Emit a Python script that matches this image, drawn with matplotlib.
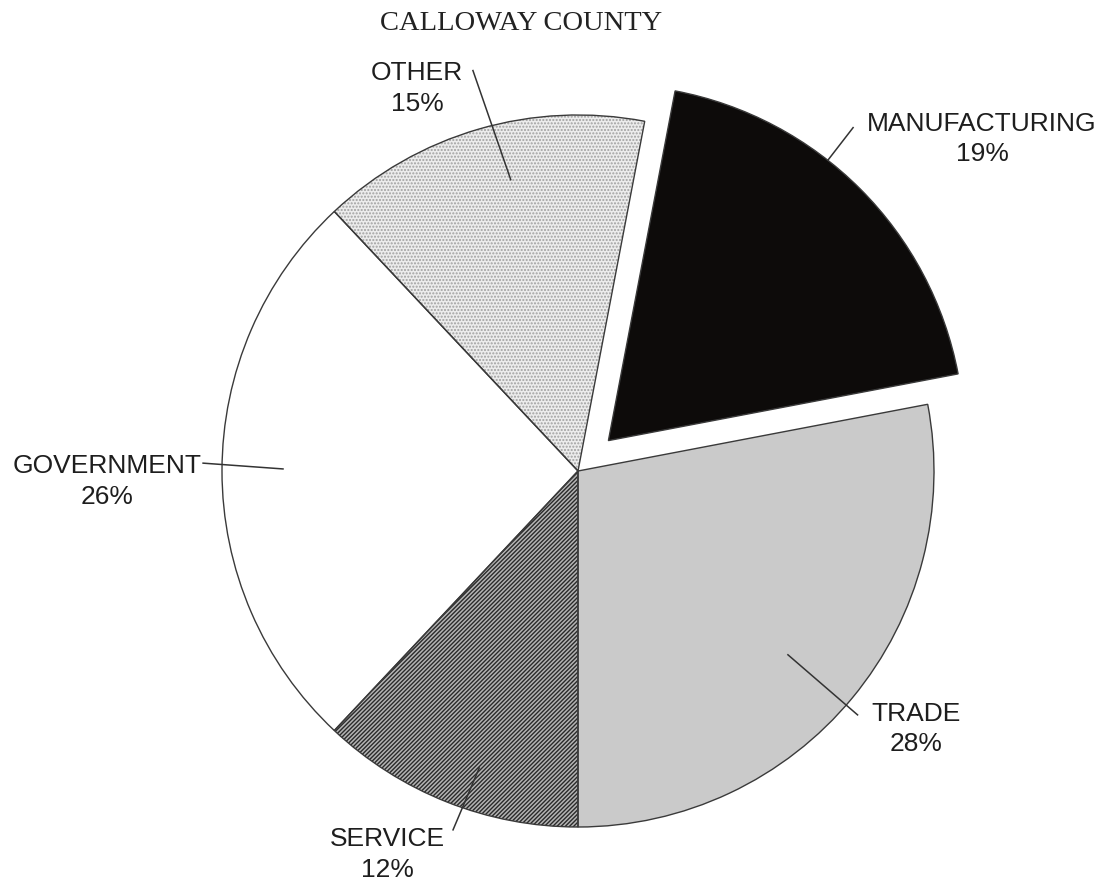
import numpy as np
import matplotlib
matplotlib.use('Agg')
import matplotlib.pyplot as plt

# data: sectors counter-clockwise from the right edge of MANUFACTURING
sectors = ['MANUFACTURING', 'OTHER', 'GOVERNMENT', 'SERVICE', 'TRADE']
shares = [19, 15, 26, 12, 28]
title = 'CALLOWAY COUNTY'

# styles
face = ['#0d0b0a', '#ececec', '#ffffff', '#b4b4b4', '#cacaca']
hatches = [None, '.....', None, '////////', None]
hatch_col = [None, '#a0a0a0', None, '#2a2a2a', None]
explode_px = [43, 0, 0, 0, 0]

# figure in pixel-like data units (y up)
W, H = 1108, 882
cx, cy, R = 578, 882 - 471, 356

# label layout, polar about pie centre: (angle, dist) of the text block,
# leader line as two polar points
text_pos = [(39.4, 523), (112.8, 415), (181.3, 471), (-116.4, 428), (-37.4, 425)]
leaders = [((51.2, 399), (51.3, 440)),
           ((103.0, 299), (104.7, 414)),
           ((179.6, 295), (178.8, 375)),
           ((-108.4, 313), (-109.2, 380)),
           ((-41.2, 279), (-41.1, 371))]

plt.rcParams['hatch.linewidth'] = 1.0

fig = plt.figure(figsize=(W / 100, H / 100), dpi=100)
ax = fig.add_axes([0, 0, 1, 1])

wedges, _ = ax.pie(shares, colors=face, explode=explode_px, startangle=10.8,
                   counterclock=True, center=(cx, cy), radius=R, frame=True,
                   wedgeprops=dict(linewidth=0))
for w, h, hc in zip(wedges, hatches, hatch_col):
    if h:
        w.set_hatch(h)
        w.set_edgecolor(hc)
        w.set_linewidth(0)

# outlines on top
ax.pie(shares, explode=explode_px, startangle=10.8,
       counterclock=True, center=(cx, cy), radius=R, frame=True,
       wedgeprops=dict(fill=False, edgecolor='#3a3a3a', linewidth=1.0))

ax.set_xlim(0, W)
ax.set_ylim(0, H)
ax.set_aspect('equal')
ax.axis('off')


def polar(a, r):
    t = np.deg2rad(a)
    return cx + r * np.cos(t), cy + r * np.sin(t)


for name, val, tp, ld in zip(sectors, shares, text_pos, leaders):
    p1 = polar(*ld[0])
    p2 = polar(*ld[1])
    ax.plot([p1[0], p2[0]], [p1[1], p2[1]], color='#333333', lw=1.1)
    tx, ty = polar(*tp)
    ax.text(tx, ty, '%s\n%d%%' % (name, val), ha='center', va='center',
            fontsize=19, family='Liberation Sans', color='#1e1e1e',
            linespacing=1.35)

ax.text(521, H - 23, title, ha='center', va='center', fontsize=20.5,
        family='Liberation Serif', color='#222222')

fig.savefig('out.png', dpi=100)
